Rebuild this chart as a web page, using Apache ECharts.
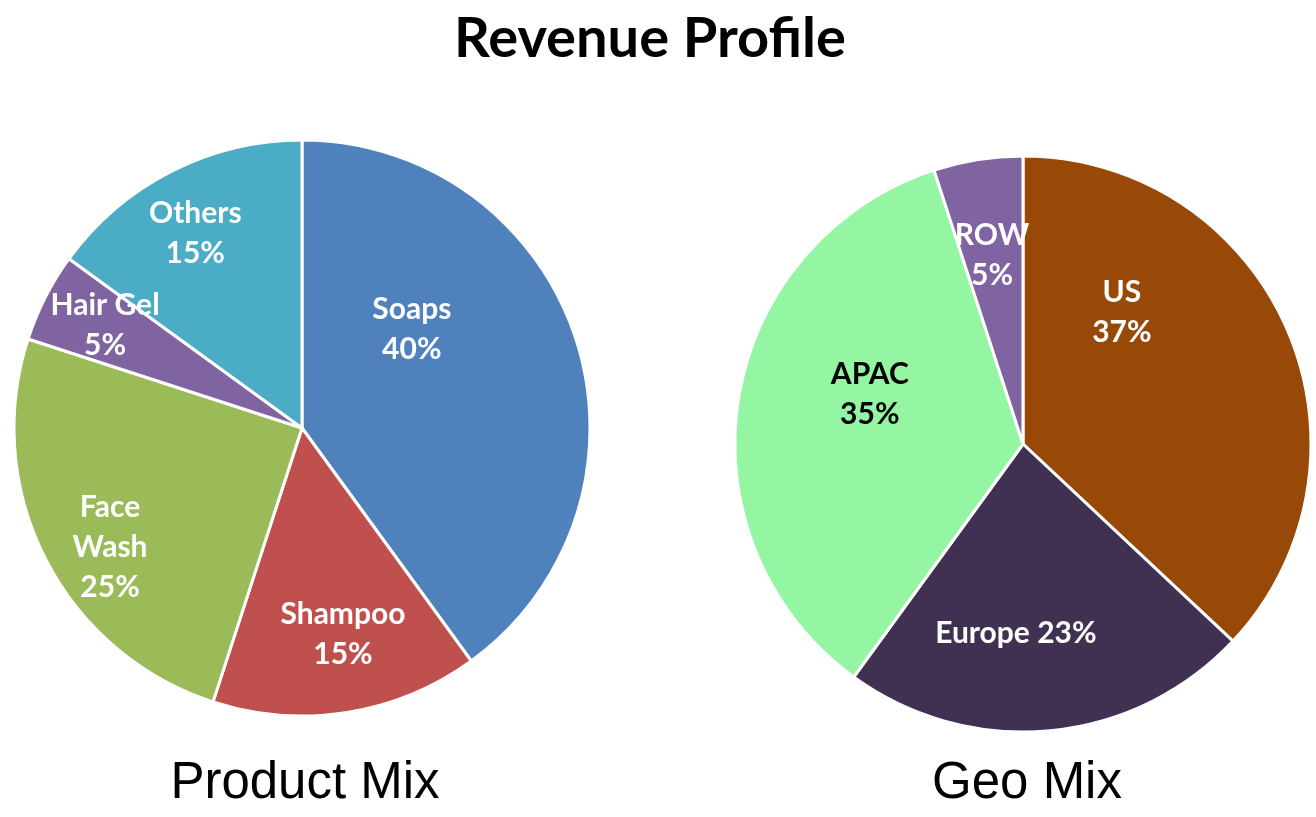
<!DOCTYPE html>
<html>
<head>
<meta charset="utf-8">
<script src="https://cdn.jsdelivr.net/npm/echarts@6/dist/echarts.min.js"></script>
<style>
html,body{margin:0;padding:0;background:#fff;}
#chart{width:1316px;height:817px;}
</style>
</head>
<body>
<div id="chart"></div>
<script>
// ---- data ----
const chartTitle = 'Revenue Profile';
const productTitle = 'Product Mix';
const geoTitle = 'Geo Mix';

const productNames = ['Soaps', 'Shampoo', 'Face Wash', 'Hair Gel', 'Others'];
const productValues = [40, 15, 25, 5, 15];

const geoNames = ['US', 'Europe', 'APAC', 'ROW'];
const geoValues = [37, 23, 35, 5];

// ---- styles ----
const productColors = ['#4F81BD', '#C0504D', '#9BBB59', '#8064A2', '#4BACC6'];
const productLabelOffsets = [[-30, -53], [18, 61], [-61, 53], [-66, -36], [-40, -64]];
const productLabelText = { 'Face Wash': 'Face\nWash' };

const geoColors = ['#984807', '#403152', '#94F6A2', '#8064A2'];
const geoLabelOffsets = [[-36, -73], [-21, 43], [-8, -27], [-8, -43]];
const geoLabelColors = ['#ffffff', '#ffffff', '#000000', '#ffffff'];
const geoLabelSep = { 'Europe': ' ' };

const labelFont = { fontFamily: 'Lato', fontWeight: 'bold', fontSize: 30, lineHeight: 40 };

function buildData(names, values, colors, offsets, labelColors) {
  return names.map((n, i) => ({
    name: n,
    value: values[i],
    itemStyle: { color: colors[i] },
    label: { offset: offsets[i], color: labelColors ? labelColors[i] : '#ffffff' }
  }));
}

const chart = echarts.init(document.getElementById('chart'), null, { renderer: 'canvas' });
chart.setOption({
  backgroundColor: '#ffffff',
  animation: false,
  title: [
    { text: chartTitle, left: 645, textAlign: 'center', top: 6,
      textStyle: { fontFamily: 'Lato', fontWeight: 'bold', fontSize: 56, color: '#000' } },
    { text: productTitle, left: 300, textAlign: 'center', top: 753,
      textStyle: { fontFamily: 'Liberation Sans', fontWeight: 'normal', fontSize: 51, color: '#000' } },
    { text: geoTitle, left: 1022, textAlign: 'center', top: 753,
      textStyle: { fontFamily: 'Liberation Sans', fontWeight: 'normal', fontSize: 51, color: '#000' } }
  ],
  series: [
    {
      type: 'pie',
      center: [302, 428],
      radius: 288,
      startAngle: 90,
      clockwise: true,
      avoidLabelOverlap: false,
      itemStyle: { borderColor: '#ffffff', borderWidth: 3 },
      label: Object.assign({
        position: 'inside',
        formatter: p => (productLabelText[p.name] || p.name) + '\n' + p.value + '%'
      }, labelFont),
      labelLine: { show: false },
      emphasis: { disabled: true },
      data: buildData(productNames, productValues, productColors, productLabelOffsets)
    },
    {
      type: 'pie',
      center: [1023, 444],
      radius: 288,
      startAngle: 90,
      clockwise: true,
      avoidLabelOverlap: false,
      itemStyle: { borderColor: '#ffffff', borderWidth: 3 },
      label: Object.assign({
        position: 'inside',
        formatter: p => p.name + (geoLabelSep[p.name] || '\n') + p.value + '%'
      }, labelFont),
      labelLine: { show: false },
      emphasis: { disabled: true },
      data: buildData(geoNames, geoValues, geoColors, geoLabelOffsets, geoLabelColors)
    }
  ]
});
</script>
</body>
</html>
